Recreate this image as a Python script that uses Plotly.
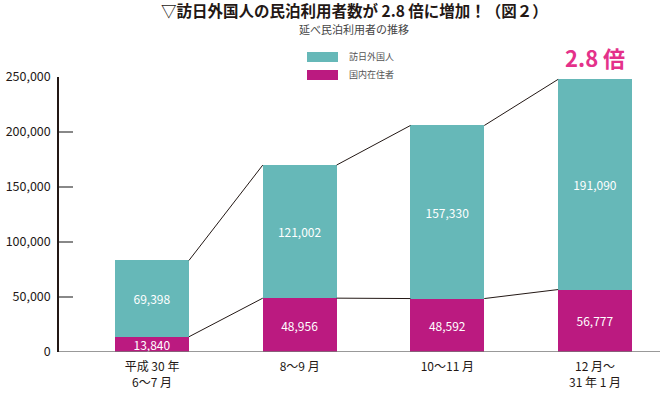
import plotly.graph_objects as go

categories = ["平成 30 年<br>6～7 月", "8～9 月", "10～11 月", "12 月～<br>31 年 1 月"]
domestic = [13840, 48956, 48592, 56777]
foreign = [69398, 121002, 157330, 191090]
tick_vals = [0, 50000, 100000, 150000, 200000, 250000]
tick_text = ["0", "50,000", "100,000", "150,000", "200,000", "250,000"]

TEAL = "#66b8b8"
MAGENTA = "#bb1a80"
DARK = "#231815"
FONT = "Noto Sans CJK JP"

xs = list(range(len(categories)))
bw = 0.5
totals = [d + f for d, f in zip(domestic, foreign)]

fig = go.Figure()
fig.add_trace(go.Bar(x=xs, y=domestic, width=bw, marker=dict(color=MAGENTA, line=dict(width=0)),
                     text=domestic, texttemplate="%{y:,}", textposition="inside",
                     insidetextanchor="middle", textfont=dict(color="white", size=12, family=FONT),
                     name="国内在住者", showlegend=False))
fig.add_trace(go.Bar(x=xs, y=foreign, width=bw, marker=dict(color=TEAL, line=dict(width=0)),
                     text=foreign, texttemplate="%{y:,}", textposition="inside",
                     insidetextanchor="middle", textfont=dict(color="white", size=12, family=FONT),
                     name="訪日外国人", showlegend=False))

# connector lines
for series in (totals, domestic):
    for i in range(len(xs) - 1):
        fig.add_trace(go.Scatter(x=[xs[i] + bw / 2, xs[i + 1] - bw / 2],
                                 y=[series[i], series[i + 1]], mode="lines",
                                 line=dict(color=DARK, width=1), showlegend=False,
                                 hoverinfo="skip"))

fig.update_layout(
    barmode="stack",
    width=669, height=394,
    margin=dict(l=59, r=9, t=77, b=42),
    plot_bgcolor="white", paper_bgcolor="white",
    font=dict(family=FONT, color=DARK, size=12),
    uniformtext=dict(minsize=12, mode="show"),
    xaxis=dict(range=[-0.63, 3.44], tickvals=xs, ticktext=categories, showgrid=False,
               zeroline=False, showline=False, ticks="", automargin=False,
               ticklabelstandoff=6, tickfont=dict(size=12, color=DARK)),
    yaxis=dict(range=[0, 250000], tickvals=tick_vals, ticktext=tick_text, showgrid=False,
               zeroline=False, showline=True, linecolor=DARK, linewidth=1.5,
               ticks="inside", ticklen=14, tickcolor="#888888", tickwidth=1.5,
               automargin=False, ticklabelstandoff=4,
               tickfont=dict(size=12.5, color=DARK)),
)

# baseline
fig.add_shape(type="line", xref="paper", yref="y", x0=0, x1=1, y0=0, y1=0,
              line=dict(color="#777777", width=1.5))

def py(pix):
    return 1 + (77 - pix) / 275

def px(pix):
    return (pix - 59) / 601

# titles
fig.add_annotation(text="<b>▽訪日外国人の民泊利用者数が 2.8 倍に増加！（図２）</b>", xref="paper", yref="paper",
                   x=px(354), y=py(10), xanchor="center", yanchor="middle", showarrow=False,
                   font=dict(size=15.5, color=DARK))
fig.add_annotation(text="延べ民泊利用者の推移", xref="paper", yref="paper",
                   x=px(354), y=py(29.5), xanchor="center", yanchor="middle", showarrow=False,
                   font=dict(size=11, color="#444444"))

# legend
for k, (col, lab) in enumerate([(TEAL, "訪日外国人"), (MAGENTA, "国内在住者")]):
    fig.add_shape(type="rect", xref="paper", yref="paper",
                  x0=px(307), x1=px(338),
                  y0=py(62 + 18 * k), y1=py(52 + 18 * k),
                  fillcolor=col, line=dict(width=0))
    fig.add_annotation(text=lab, xref="paper", yref="paper", x=px(347),
                       y=py(57 + 18 * k), xanchor="left", yanchor="middle",
                       showarrow=False, font=dict(size=9, color="#555555"))

fig.add_annotation(text="<b>2.8 倍</b>", x=xs[3], y=totals[3], yshift=4, yanchor="bottom",
                   showarrow=False, font=dict(size=22, color="#e4318a"))

fig.write_html("out.html", config={"displayModeBar": False},
               post_script="document.body.style.margin='0';document.body.style.overflow='hidden';")
